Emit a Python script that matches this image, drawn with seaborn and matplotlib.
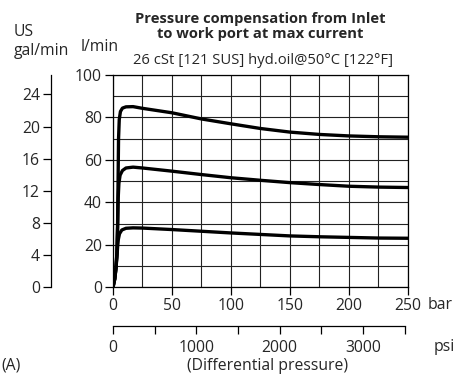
import numpy as np
import pandas as pd
import matplotlib
matplotlib.use("Agg")
import matplotlib.pyplot as plt
import seaborn as sns

sns.set_style("white")
plt.rcParams["font.family"] = ["Open Sans", "DejaVu Sans"]

# Flow (l/min) against differential pressure (bar) for three spool settings
bar_high = [0, 1.5, 2.5, 3.3, 3.9, 4.3, 4.7, 5.3, 6.3, 8, 11, 17, 25, 50, 75, 100, 125, 150, 175, 200, 225, 250]
flow_high = [0, 4, 9, 16, 30, 50, 70, 79, 82.8, 84.4, 85, 85.1, 84.3, 82.2, 79.3, 77, 74.8, 73.1, 72, 71.3, 70.9, 70.7]

bar_mid = [0, 1.5, 2.5, 3.3, 3.9, 4.4, 5, 6, 8, 11, 17, 25, 50, 75, 100, 125, 150, 175, 200, 225, 250]
flow_mid = [0, 4, 9, 16, 28, 42, 49, 52.8, 55, 56.2, 56.6, 56.2, 54.7, 53.1, 51.6, 50.4, 49.3, 48.4, 47.6, 47.2, 47.0]

bar_low = [0, 1.5, 2.5, 3.3, 3.9, 4.5, 5.5, 7.5, 11, 17, 25, 50, 75, 100, 125, 150, 175, 200, 225, 250]
flow_low = [0, 4, 9, 14, 19, 22.5, 25.2, 27, 27.8, 28, 27.9, 27.2, 26.4, 25.6, 24.9, 24.2, 23.8, 23.5, 23.2, 23.1]

bar_ticks = [0, 50, 100, 150, 200, 250]
lpm_ticks = [0, 20, 40, 60, 80, 100]
gpm_ticks = [0, 4, 8, 12, 16, 20, 24]
psi_ticks = [0, 500, 1000, 1500, 2000, 2500, 3000, 3500]
psi_labels = ["0", "", "1000", "", "2000", "", "3000", ""]

L_PER_GAL = 3.785

df = pd.concat([
    pd.DataFrame({"bar": bar_high, "flow": flow_high, "curve": "high"}),
    pd.DataFrame({"bar": bar_mid, "flow": flow_mid, "curve": "mid"}),
    pd.DataFrame({"bar": bar_low, "flow": flow_low, "curve": "low"}),
])

W, H = 456, 375
fig = plt.figure(figsize=(W / 100, H / 100), dpi=100)


def box(x0, y_top, x1, y_bot):
    return [x0 / W, 1 - y_bot / H, (x1 - x0) / W, (y_bot - y_top) / H]


def fx(x):
    return x / W


def fy(y):
    return 1 - y / H


FS = 11.3
TS = 10.6

# main chart
ax = fig.add_axes(box(113, 75, 408, 287.3))
sns.lineplot(data=df, x="bar", y="flow", units="curve", estimator=None,
             color="black", linewidth=2.4, sort=False, ax=ax, legend=False)
ax.set_xlim(0, 250)
ax.set_ylim(0, 100)
ax.set_xticks(np.arange(0, 251, 25), minor=True)
ax.set_yticks(np.arange(0, 101, 10), minor=True)
ax.set_xticks(bar_ticks)
ax.set_yticks(lpm_ticks)
ax.grid(which="both", color="#222222", linewidth=0.8)
ax.set_axisbelow(True)
for s in ax.spines.values():
    s.set_color("black")
    s.set_linewidth(0.9)
ax.tick_params(axis="both", which="major", direction="out", length=6, width=0.9,
               color="black", labelsize=FS, pad=2, bottom=True, left=True)
ax.tick_params(axis="both", which="minor", length=0)
ax.set_xlabel("")
ax.set_ylabel("")

# US gal/min scale
axg = fig.add_axes(box(51, 75, 52, 287.3))
axg.set_ylim(0, 100 / L_PER_GAL)
axg.set_xlim(0, 1)
axg.set_yticks(gpm_ticks)
axg.set_xticks([])
axg.patch.set_visible(False)
for k in ["top", "right", "bottom"]:
    axg.spines[k].set_visible(False)
axg.spines["left"].set_color("black")
axg.spines["left"].set_linewidth(0.9)
axg.tick_params(axis="y", direction="out", length=6, width=0.9, color="black",
                labelsize=FS, pad=2, left=True)

# psi scale
axp = fig.add_axes(box(113, 310, 408, 326))
axp.set_xlim(0, 3500 * 295 / 291.7)
axp.set_ylim(0, 1)
axp.set_xticks(psi_ticks)
axp.set_xticklabels(psi_labels)
axp.set_yticks([])
axp.patch.set_visible(False)
for k in ["top", "right", "left"]:
    axp.spines[k].set_visible(False)
axp.spines["bottom"].set_bounds(0, 3500)
axp.spines["bottom"].set_color("black")
axp.spines["bottom"].set_linewidth(0.9)
axp.tick_params(axis="x", direction="out", length=6, width=0.9, color="black",
                labelsize=FS, pad=4, bottom=True)

# titles and unit labels
fig.text(fx(260.5), fy(19), "Pressure compensation from Inlet", ha="center", va="center",
         fontsize=TS, fontweight="bold")
fig.text(fx(260.5), fy(34), "to work port at max current", ha="center", va="center",
         fontsize=TS, fontweight="bold")
fig.text(fx(263.5), fy(60), "26 cSt [121 SUS] hyd.oil@50°C [122°F]", ha="center", va="center",
         fontsize=TS)
fig.text(fx(14), fy(32), "US", ha="left", va="center", fontsize=FS)
fig.text(fx(14), fy(51), "gal/min", ha="left", va="center", fontsize=FS)
fig.text(fx(81), fy(47), "l/min", ha="left", va="center", fontsize=FS)
fig.text(fx(453), fy(305), "bar", ha="right", va="center", fontsize=FS)
fig.text(fx(434), fy(347), "psi", ha="left", va="center", fontsize=FS)
fig.text(fx(268), fy(366), "(Differential pressure)", ha="center", va="center", fontsize=FS)
fig.text(fx(1), fy(366), "(A)", ha="left", va="center", fontsize=FS)

fig.savefig("out.png", dpi=100)
